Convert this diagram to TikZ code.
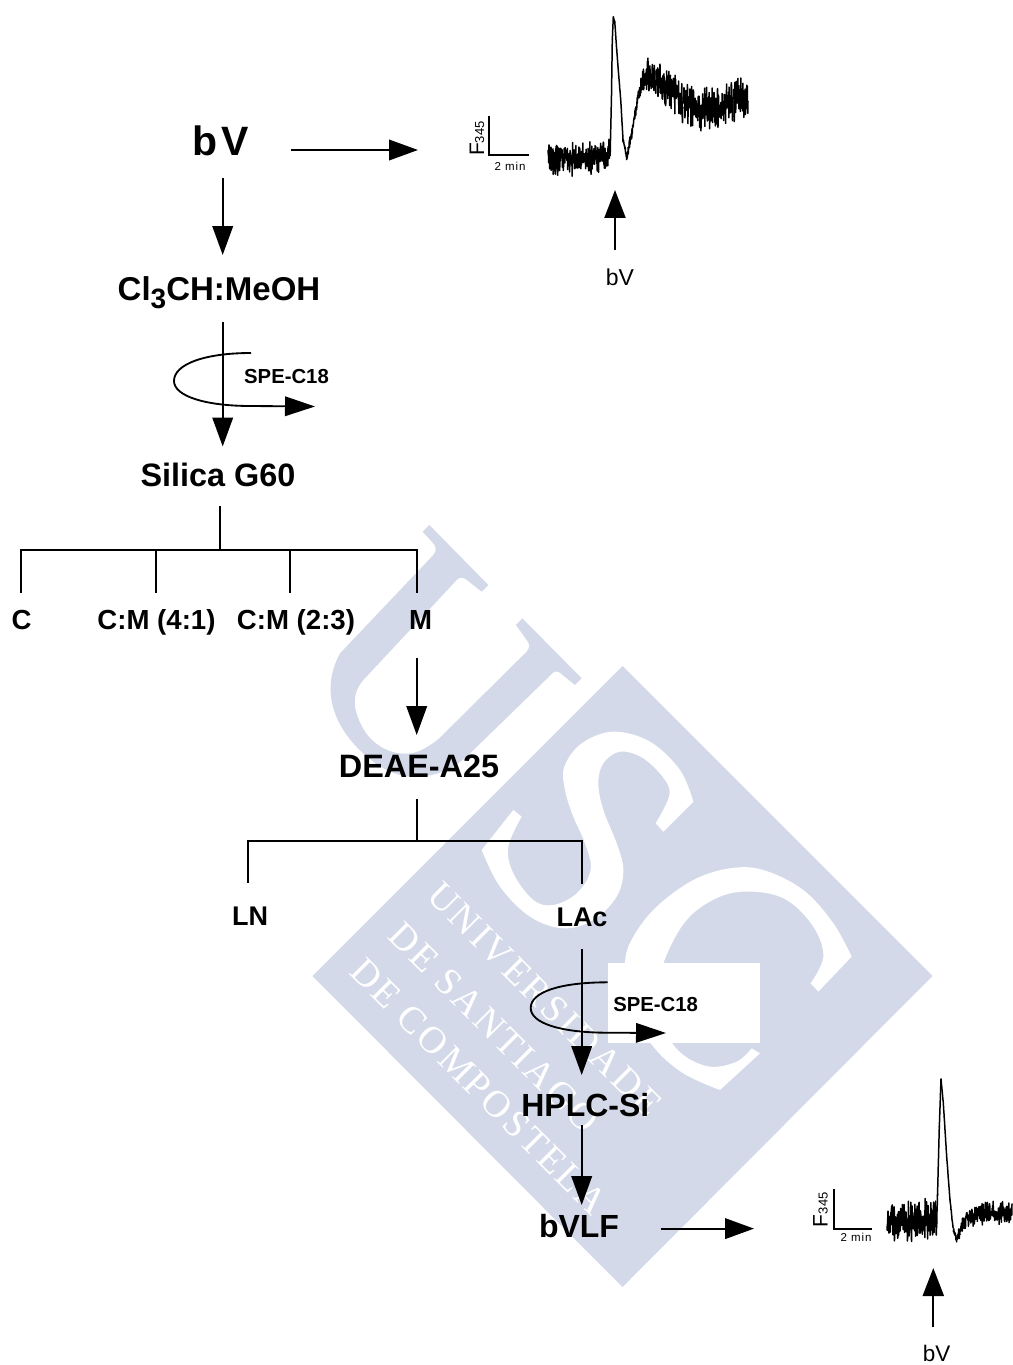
\documentclass[tikz,border=0pt]{standalone}
\usepackage{fontspec}
\setmainfont{Liberation Sans}
\newfontfamily\wmfont[LetterSpace=7.4]{Liberation Serif}
\usetikzlibrary{arrows.meta,calc}
\definecolor{wm}{RGB}{211,217,232}
\newcommand\fs[1]{\pgfmathsetmacro\tmpfs{#1*0.56906}\fontsize{\tmpfs pt}{\tmpfs pt}\selectfont}
\newcommand\noisytrace[4]{%
  \foreach \xb/\yb/\ab [remember=\xb as \xa (initially #1),remember=\yb as \ya (initially #2),remember=\ab as \aa (initially #3)] in {#4}{%
    \pgfmathtruncatemacro\ns{max(2,(\xb-\xa)*4+2)}%
    \draw[trace] plot[domain=\xa:\xb,samples=\ns] (\x,{\ya+(\yb-\ya)*(\x-\xa)/(\xb-\xa)+(\aa+(\ab-\aa)*(\x-\xa)/(\xb-\xa))*(rnd-rnd)});
  }}
\tikzset{
  x=0.02cm,y=-0.02cm,
  lab/.style 2 args={anchor=base,inner sep=0pt,outer sep=0pt,text height=#1*0.02cm,text depth=#2*0.02cm,font=\bfseries},
  ln/.style={line width=1.25pt,black},
  arr/.style={ln,-{Triangle[length=0.58cm,width=0.41cm]}},
  loopline/.style={line width=1.05pt,black},
  looparr/.style={line width=1.05pt,black,-{Triangle[length=0.6cm,width=0.39cm]}},
  scalebar/.style={line width=0.95pt,black},
  trace/.style={line width=0.85pt,black,line cap=round,line join=round},
  wmtext/.style={white,anchor=base west,rotate=-45,inner sep=0pt,font=\wmfont\fs{38}},
  plain/.style={anchor=base,inner sep=0pt,outer sep=0pt}
}
\begin{document}
\begin{tikzpicture}
\useasboundingbox (0,0) rectangle (1012,1365);
\fill[white] (0,0) rectangle (1012,1365);
% ---------- watermark
\fill[wm] (312.5,976) -- (622.5,666) -- (932.5,976) -- (622.5,1287) -- cycle;
\begin{scope}[shift={(310,510)},x=0.02cm/3,y=-0.02cm/3]
\fill[wm] (358,45) -- (535,225) -- (515,245) -- (468,208)
  .. controls (455,200) and (448,202) .. (440,210)
  -- (160,510) .. controls (125,550) and (125,600) .. (165,665)
  .. controls (205,725) and (280,745) .. (330,722)
  .. controls (360,708) and (385,690) .. (405,668)
  -- (650,425) .. controls (660,412) and (660,402) .. (650,390)
  -- (618,345) -- (637,325) -- (815,505) -- (795,525) -- (748,487)
  .. controls (738,482) and (730,485) .. (722,495)
  -- (470,740) .. controls (390,810) and (280,825) .. (190,755)
  .. controls (90,680) and (20,560) .. (90,430)
  -- (370,135) .. controls (382,120) and (378,110) .. (368,98)
  -- (338,65) -- cycle;
\end{scope}
\begin{scope}[shift={(470,680)},x=0.02cm/3,y=-0.02cm/3]
\fill[white] plot[smooth,tension=.6] coordinates {(670,365) (630,270) (540,185) (430,155) (335,190) (283,260) (285,330) (310,410) (345,490) (362,570) (320,640) (250,675) (190,660) (130,580) (115,500) (155,410)}
  -- (130,390) -- plot[smooth,tension=.6] coordinates {(35,510) (90,620) (180,710) (280,745) (370,720) (440,650) (460,570) (440,490) (400,390) (385,310) (400,250) (450,215) (520,235) (585,300) (597,350) (557,430)}
  -- (580,455) -- cycle;
\fill[white] plot[smooth,tension=.6] coordinates {(1145,830) (1090,730) (1000,630) (880,570) (780,565) (670,600) (560,680) (490,770) (465,850) (480,980) (550,1100) (640,1180) (750,1230)}
  -- (870,1120) -- plot[smooth,tension=.6] coordinates {(845,1105) (800,1145) (720,1160) (640,1125) (590,1060) (565,960) (580,850) (650,720) (750,650) (850,635) (950,660) (1030,740) (1060,830) (1022,910)}
  -- (1045,935) -- cycle;
\end{scope}
\node[wmtext] (w1) at (425,897) {UNIVERSIDADE};
\node[wmtext] (w2) at (386,937) {DE SANTIAGO};
\node[wmtext] (w3) at (348,973) {DE COMPOSTELA};
\fill[white] (607.7,963.3) rectangle (760,1042.7);
% ---------- nodes
\node[lab={30}{22},minimum width=141*0.02cm] (bv) at (220.5,156) {\fs{41}b\kern 2pt V};
\node[lab={45}{22}] (cl) at (219,300) {\fs{33}Cl\raisebox{-8\dimexpr0.02cm\relax}{\fs{28}3}CH:MeOH};
\node[lab={39.5}{20}] (silica) at (218,486) {\fs{32.4}Silica G60};
\node[lab={36}{20}] (c) at (21.7,629) {\fs{27.6}C};
\node[lab={36}{20}] (cm41) at (156.5,629) {\fs{27.6}C:M (4:1)};
\node[lab={36}{20}] (cm23) at (296,629) {\fs{27.6}C:M (2:3)};
\node[lab={36}{29}] (m) at (420.5,629) {\fs{27.6}M};
\node[lab={42}{22}] (deae) at (419,777) {\fs{32.4}DEAE-A25};
\node[lab={42.5}{22.5}] (ln) at (250,925.5) {\fs{27}LN};
\node[lab={42.5}{22.5}] (lac) at (582,926.5) {\fs{27}LAc};
\node[lab={41.7}{8.3}] (hplc) at (585.3,1116.7) {\fs{32}HPLC-Si};
\node[lab={32}{0},minimum width=164*0.02cm] (bvlf) at (579,1237) {\fs{32}bVLF};
\node[lab={14}{2}] (spe1) at (286.5,383.5) {\fs{20.3}SPE-C18};
\node[lab={14}{2}] (spe2) at (655.6,1011.7) {\fs{20.3}SPE-C18};
% ---------- helper coordinates
\coordinate (a) at (222.7,0);
\coordinate (bus) at (220,550);
\coordinate (b1) at (21,550);
\coordinate (b2) at (156,550);
\coordinate (b3) at (290,550);
\coordinate (b4) at (416.7,550);
\coordinate (j) at (416.7,841);
\coordinate (k1) at (248,841);
\coordinate (k2) at (581.7,841);
\coordinate (tr1in) at (418,150);
\coordinate (tr2in) at (754,1228.6);
% ---------- connectors
\draw[arr] (a |- bv.south) -- (a |- cl.north);
\draw[arr] (a |- cl.south) -- (a |- silica.north);
\draw[arr] (bv.east |- tr1in) -- (tr1in);
\draw[ln] (bus |- silica.south) -- (bus);
\draw[ln] (b1 |- c.north) -- (b1) -- (b4) -- (b4 |- m.north);
\draw[ln] (b2) -- (b2 |- cm41.north);
\draw[ln] (b3) -- (b3 |- cm23.north);
\draw[arr] (b4 |- m.south) -- (b4 |- deae.north);
\draw[ln] (j |- deae.south) -- (j);
\draw[ln] (k1 |- ln.north) -- (k1) -- (k2) -- (k2 |- lac.north);
\draw[arr] (k2 |- lac.south) -- (k2 |- hplc.north);
\draw[arr] (k2 |- hplc.south) -- (k2 |- bvlf.north);
\draw[arr] (bvlf.east |- tr2in) -- (tr2in);
% ---------- loops
\coordinate (l1s) at (251,353);
\coordinate (l1l) at (174,381);
\coordinate (l1b) at (251,406);
\coordinate (l1e) at (315,406.5);
\draw[looparr] (l1s) .. controls (205,353) and (174,364) .. (l1l) .. controls (174,396) and (205,406) .. (l1b) -- (l1e);
\coordinate (l2s) at (607.7,982.3);
\coordinate (l2l) at (530.7,1008);
\coordinate (l2b) at (607.7,1032.7);
\coordinate (l2e) at (666,1033);
\draw[looparr] (l2s) .. controls (560,982.3) and (530.7,992) .. (l2l) .. controls (530.7,1023) and (560,1032.7) .. (l2b) -- (l2e);
% ---------- upper trace
\pgfmathsetseed{345}
\noisytrace{548}{159}{19}{{610/157/19},{610.5/140/1},{611.5/95/.6},{612.3/40/.6},{613.3/17/.6},{614.8/22/.6},{616.7/50/.6},{620.7/100/1},{623/140/3},{626.7/158/6},{630/140/6},{632/133/5},{635/113/6},{640/87/12},{646.7/75/18},{655/75/22},{666.7/90/22},{683/100/24},{698/110/24},{717/107/24},{733/100/24},{748/98/24}}
\draw[scalebar] (489,116) -- (489,155.3) -- (528.7,155.3);
\node[plain,anchor=base west,rotate=90] (f1) at (484,156) {\fs{21}F\fs{13}345};
\node[plain] (t1) at (510,170.7) {\fs{11.5}\addfontfeature{LetterSpace=8}2 min};
\coordinate (up1) at (615,250);
\coordinate (tip1) at (615,190);
\draw[ln,-{Triangle[length=0.56cm,width=0.42cm]}] (up1) -- (tip1);
\node[plain] (bv1) at (620,285) {\fs{23}bV};
% ---------- lower trace
\noisytrace{887}{1223}{22}{{936.5/1218/22},{937.5/1195/2},{939.3/1127/.6},{941/1079/.6},{943.3/1103/.6},{946.7/1157/.6},{950/1200/1},{953.3/1230/4},{956.7/1240/5},{960/1230/8},{966.7/1217/12},{983/1213/12},{1012/1213/12}}
\draw[scalebar] (834.3,1189.3) -- (834.3,1229) -- (872.3,1229);
\node[plain,anchor=base west,rotate=90] (f2) at (827.7,1227) {\fs{21}F\fs{13}345};
\node[plain] (t2) at (856,1241.7) {\fs{11.5}\addfontfeature{LetterSpace=8}2 min};
\coordinate (up2) at (933.3,1327.3);
\coordinate (tip2) at (933.3,1268);
\draw[ln,-{Triangle[length=0.56cm,width=0.42cm]}] (up2) -- (tip2);
\node[plain] (bv2) at (936.7,1361.7) {\fs{22.5}bV};
\end{tikzpicture}
\end{document}
